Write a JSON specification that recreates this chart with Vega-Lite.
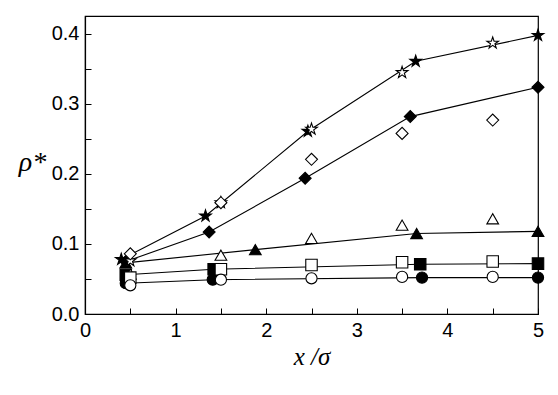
{
  "$schema": "https://vega.github.io/schema/vega-lite/v6.json",
  "width": 453,
  "height": 298,
  "autosize": {"type": "none"},
  "padding": {"left": 85, "top": 16, "right": 20, "bottom": 81},
  "background": "white",
  "config": {
    "view": {"stroke": "black", "strokeWidth": 1.2},
    "axis": {
      "domainColor": "black", "domainWidth": 1.2, "tickColor": "black", "tickWidth": 1,
      "labelFont": "Liberation Sans", "labelFontSize": 20, "labelColor": "black",
      "grid": false, "tickSize": -6
    }
  },
  "data": {"values": [
    {"s":"star","f":"filled","x":0.4,"y":0.078},
    {"s":"star","f":"filled","x":1.33,"y":0.14},
    {"s":"star","f":"filled","x":2.46,"y":0.261},
    {"s":"star","f":"filled","x":3.65,"y":0.361},
    {"s":"star","f":"filled","x":5,"y":0.398},
    {"s":"star","f":"open","x":0.5,"y":0.076},
    {"s":"star","f":"open","x":1.5,"y":0.159},
    {"s":"star","f":"open","x":2.5,"y":0.264},
    {"s":"star","f":"open","x":3.5,"y":0.345},
    {"s":"star","f":"open","x":4.5,"y":0.387},
    {"s":"diamond","f":"filled","x":0.45,"y":0.075},
    {"s":"diamond","f":"filled","x":1.37,"y":0.117},
    {"s":"diamond","f":"filled","x":2.43,"y":0.194},
    {"s":"diamond","f":"filled","x":3.59,"y":0.282},
    {"s":"diamond","f":"filled","x":5,"y":0.324},
    {"s":"diamond","f":"open","x":0.5,"y":0.086},
    {"s":"diamond","f":"open","x":1.5,"y":0.159},
    {"s":"diamond","f":"open","x":2.5,"y":0.221},
    {"s":"diamond","f":"open","x":3.5,"y":0.258},
    {"s":"diamond","f":"open","x":4.5,"y":0.277},
    {"s":"triangle","f":"filled","x":0.45,"y":0.073},
    {"s":"triangle","f":"filled","x":1.88,"y":0.092},
    {"s":"triangle","f":"filled","x":3.66,"y":0.115},
    {"s":"triangle","f":"filled","x":5,"y":0.118},
    {"s":"triangle","f":"open","x":0.5,"y":0.057},
    {"s":"triangle","f":"open","x":1.5,"y":0.084},
    {"s":"triangle","f":"open","x":2.5,"y":0.108},
    {"s":"triangle","f":"open","x":3.5,"y":0.127},
    {"s":"triangle","f":"open","x":4.5,"y":0.136},
    {"s":"square","f":"filled","x":0.45,"y":0.056},
    {"s":"square","f":"filled","x":1.42,"y":0.064},
    {"s":"square","f":"filled","x":3.7,"y":0.071},
    {"s":"square","f":"filled","x":5,"y":0.072},
    {"s":"square","f":"open","x":0.5,"y":0.052},
    {"s":"square","f":"open","x":1.5,"y":0.064},
    {"s":"square","f":"open","x":2.5,"y":0.07},
    {"s":"square","f":"open","x":3.5,"y":0.074},
    {"s":"square","f":"open","x":4.5,"y":0.075},
    {"s":"circle","f":"filled","x":0.45,"y":0.044},
    {"s":"circle","f":"filled","x":1.41,"y":0.049},
    {"s":"circle","f":"filled","x":3.72,"y":0.052},
    {"s":"circle","f":"filled","x":5,"y":0.052},
    {"s":"circle","f":"open","x":0.5,"y":0.041},
    {"s":"circle","f":"open","x":1.5,"y":0.049},
    {"s":"circle","f":"open","x":2.5,"y":0.051},
    {"s":"circle","f":"open","x":3.5,"y":0.053},
    {"s":"circle","f":"open","x":4.5,"y":0.053}
  ]},
  "encoding": {
    "x": {"field": "x", "type": "quantitative",
      "scale": {"domain": [0, 5], "nice": false, "zero": false},
      "axis": {
        "values": [0,0.5,1,1.5,2,2.5,3,3.5,4,4.5,5],
        "labelExpr": "datum.value % 1 === 0 ? format(datum.value, 'd') : ''",
        "labelPadding": 12,
        "labelFlush": false,
        "title": "x /σ",
        "titleFont": "Liberation Serif", "titleFontStyle": "italic", "titleFontWeight": "normal",
        "titleFontSize": 25, "titleColor": "black", "titlePadding": 4,
        "encode": {"ticks": {"update": {"y2": {"signal": "datum.value % 1 === 0 ? -6 : -3"}}}}
      }},
    "y": {"field": "y", "type": "quantitative",
      "scale": {"domain": [0, 0.4257], "nice": false, "zero": false},
      "axis": {
        "values": [0,0.05,0.1,0.15,0.2,0.25,0.3,0.35,0.4],
        "labelExpr": "round(datum.value*100) % 10 === 0 ? format(datum.value, '.1f') : ''",
        "labelPadding": 12,
        "labelFlush": false,
        "title": "ρ*",
        "titleAngle": 0,
        "titleFont": "Liberation Serif", "titleFontStyle": "italic", "titleFontWeight": "normal",
        "titleFontSize": 28, "titleColor": "black",
        "titleX": -53, "titleY": 146, "titleAlign": "center", "titleBaseline": "middle",
        "encode": {"ticks": {"update": {"x2": {"signal": "datum.value*100 % 10 < 1 || datum.value*100 % 10 > 9 ? 6 : 3"}}}}
      }}
  },
  "layer": [
    {
      "transform": [{"filter": "datum.f === 'filled'"}],
      "mark": {"type": "line", "color": "black", "strokeWidth": 1.1},
      "encoding": {"detail": {"field": "s"}, "order": {"field": "x"}}
    },
    {
      "mark": {"type": "point", "filled": false, "stroke": "black", "strokeWidth": 1.1, "opacity": 1},
      "encoding": {
        "shape": {"field": "s", "type": "nominal", "legend": null,
          "scale": {"domain": ["star","diamond","triangle","square","circle"],
            "range": ["M0,-1L0.2245,-0.309L0.951,-0.309L0.363,0.118L0.588,0.809L0,0.382L-0.588,0.809L-0.363,0.118L-0.951,-0.309L-0.2245,-0.309Z","diamond","triangle-up","square","circle"]}},
        "fill": {"field": "f", "type": "nominal", "legend": null,
          "scale": {"domain": ["filled","open"], "range": ["black","white"]}},
        "size": {"field": "s", "type": "nominal", "legend": null,
          "scale": {"domain": ["star","diamond","triangle","square","circle"], "range": [150, 125, 95, 62, 80]}},
        "order": {"field": "f", "sort": "ascending"}
      }
    }
  ]
}
